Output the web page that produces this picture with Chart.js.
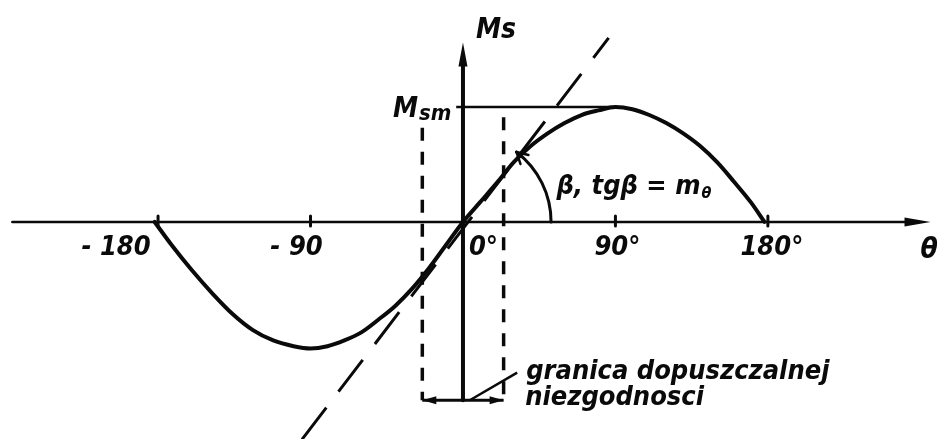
<!DOCTYPE html>
<html>
<head>
<meta charset="utf-8">
<title>Ms(θ)</title>
<script src="https://cdn.jsdelivr.net/npm/chart.js@4.4.1/dist/chart.umd.min.js"></script>
<style>
  html, body { margin: 0; padding: 0; background: #fff; }
  canvas { display: block; }
</style>
</head>
<body>
<canvas id="chart" width="940" height="439"></canvas>
<script>
// synchronising torque Ms against load angle θ (deg), scaled so that Msm = 1
const curveTheta = [-182, -172, -160, -148, -136, -124, -112, -100, -90, -80, -70, -60, -50, -40, -30, -20, -10, 0,
                    10, 20, 30, 40, 50, 60, 70, 80, 90, 100, 110, 120, 130, 140, 150, 160, 170, 178];
const curveMs    = [0, -0.20, -0.42, -0.62, -0.80, -0.94, -1.03, -1.08, -1.10, -1.08, -1.03, -0.96, -0.85, -0.73, -0.58, -0.40, -0.20, 0,
                    0.17, 0.34, 0.52, 0.66, 0.77, 0.86, 0.93, 0.97, 1.0, 0.98, 0.93, 0.86, 0.77, 0.66, 0.52, 0.35, 0.17, 0];

// tangent at the origin, tg β = mθ
const tangentTheta = [-95, 86];
const tangentMs    = [-1.89, 1.60];

// limits of the admissible mismatch
const limitTheta  = [-24, 24];
const limitTop    = [0.82, 0.91];
const limitBottom = -1.55;

// Msm level line
const msmTheta = [-4, 90];
const msmValue = 1;

// leader line to the note
const leaderTheta = [4, 32];
const leaderMs    = [-1.55, -1.31];

// axes
const axisTheta = [-266, 276];
const axisMs    = [-1.55, 1.56];
const tickTheta = [-180, -90, 90, 180];
const tickLabels = ['- 180', '- 90', '0°', '90°', '180°'];
const arcFootTheta = 52;

const ink = '#0a0a0a';
const hand = '"Liberation Sans Narrow", "DejaVu Sans Condensed", sans-serif';

function pts(xs, ys) {
  return xs.map((v, i) => ({ x: v, y: Array.isArray(ys) ? ys[i] : ys }));
}

function arrowHead(ctx, x, y, ang, len, half) {
  ctx.beginPath();
  ctx.moveTo(x, y);
  ctx.lineTo(x - len * Math.cos(ang) + half * Math.sin(ang), y - len * Math.sin(ang) - half * Math.cos(ang));
  ctx.lineTo(x - len * Math.cos(ang) - half * Math.sin(ang), y - len * Math.sin(ang) + half * Math.cos(ang));
  ctx.closePath();
  ctx.fill();
}

function stroke(ctx, x1, y1, x2, y2) {
  ctx.beginPath();
  ctx.moveTo(x1, y1);
  ctx.lineTo(x2, y2);
  ctx.stroke();
}

// M with a lowered, smaller index
function withIndex(ctx, main, sub, x, y, size, subSize, drop) {
  ctx.textAlign = 'left';
  ctx.font = 'italic bold ' + size + 'px ' + hand;
  ctx.fillText(main, x, y);
  const w = ctx.measureText(main).width;
  ctx.font = 'italic bold ' + subSize + 'px ' + hand;
  ctx.fillText(sub, x + w + 1, y + drop);
}

const sketch = {
  id: 'sketch',
  beforeDatasetsDraw(chart) {
    const { ctx, scales: { x, y } } = chart;
    const px = v => x.getPixelForValue(v);
    const py = v => y.getPixelForValue(v);
    ctx.save();
    ctx.strokeStyle = ink;
    ctx.fillStyle = ink;
    ctx.lineCap = 'round';

    // θ axis
    ctx.lineWidth = 2.6;
    stroke(ctx, px(axisTheta[0]), py(0), px(axisTheta[1]) - 12, py(0));
    arrowHead(ctx, px(axisTheta[1]), py(0), 0, 26, 4.5);

    // Ms axis
    ctx.lineWidth = 4;
    stroke(ctx, px(0), py(axisMs[0]), px(0), py(axisMs[1]) + 14);
    arrowHead(ctx, px(0), py(axisMs[1]), -Math.PI / 2, 24, 4.5);

    // tick marks
    ctx.lineWidth = 3;
    tickTheta.forEach(t => stroke(ctx, px(t), py(0) - 6, px(t), py(0) + 4));
    ctx.restore();
  },
  afterDatasetsDraw(chart) {
    const { ctx, scales: { x, y } } = chart;
    const px = v => x.getPixelForValue(v);
    const py = v => y.getPixelForValue(v);
    ctx.save();
    ctx.strokeStyle = ink;
    ctx.fillStyle = ink;
    ctx.lineCap = 'round';

    // arrows of the mismatch bracket
    arrowHead(ctx, px(limitTheta[0]), py(limitBottom), Math.PI, 14, 4);
    arrowHead(ctx, px(limitTheta[1]), py(limitBottom), 0, 14, 4);

    // angle β between tangent and θ axis
    const ox = px(0), oy = py(0);
    const tx = px(tangentTheta[1]) - px(tangentTheta[0]);
    const ty = py(tangentMs[1]) - py(tangentMs[0]);
    const beta = Math.atan2(-ty, tx);
    const r = px(arcFootTheta) - ox;
    ctx.lineWidth = 3;
    ctx.beginPath();
    ctx.arc(ox, oy, r, -beta, 0);
    ctx.stroke();
    const ax = ox + r * Math.cos(beta), ay = oy - r * Math.sin(beta);
    ctx.lineWidth = 2.5;
    stroke(ctx, ax, ay, ax + 4, ay + 12);
    stroke(ctx, ax, ay, ax + 12, ay + 3);

    ctx.textBaseline = 'alphabetic';

    // axis names
    ctx.textAlign = 'left';
    ctx.font = 'italic bold 28px ' + hand;
    ctx.fillText('Ms', ox + 13, 38);
    ctx.fillText('θ', px(axisTheta[1]) - 10, oy + 36);
    withIndex(ctx, 'M', 'sm', ox - 70, py(msmValue) + 10, 28, 22, 3);

    // tick labels
    ctx.font = 'italic bold 27px ' + hand;
    ctx.textAlign = 'center';
    ctx.fillText(tickLabels[0], px(-180) - 42, oy + 33);
    ctx.fillText(tickLabels[1], px(-90) - 14, oy + 33);
    ctx.textAlign = 'left';
    ctx.fillText(tickLabels[2], ox + 6, oy + 33);
    ctx.textAlign = 'center';
    ctx.fillText(tickLabels[3], px(90) + 2, oy + 33);
    ctx.fillText(tickLabels[4], px(180) + 4, oy + 33);

    // β, tgβ = mθ
    ctx.textAlign = 'left';
    ctx.font = 'italic bold 27px ' + hand;
    const s = 'β, tgβ = m';
    ctx.fillText(s, ax + 40, oy - 28);
    const sw = ctx.measureText(s).width;
    ctx.font = 'italic bold 16px ' + hand;
    ctx.fillText('θ', ax + 41 + sw, oy - 24);

    // note on the bracket
    ctx.font = 'italic bold 27px ' + hand;
    ctx.fillText('granica dopuszczalnej', px(leaderTheta[1]) + 9, py(leaderMs[1]) + 6);
    ctx.fillText('niezgodnosci', px(leaderTheta[1]) + 8, py(leaderMs[1]) + 32);
    ctx.restore();
  }
};

const lineSet = (data, width, dash) => ({
  data, showLine: true, pointRadius: 0, borderColor: ink,
  borderWidth: width, borderDash: dash || [], tension: 0, fill: false
});

new Chart(document.getElementById('chart'), {
  type: 'scatter',
  data: {
    datasets: [
      Object.assign(lineSet(pts(curveTheta, curveMs), 4), { cubicInterpolationMode: 'monotone', borderCapStyle: 'round', borderJoinStyle: 'round' }),
      lineSet(pts(tangentTheta, tangentMs), 3, [40, 20]),
      lineSet(pts([limitTheta[0], limitTheta[0]], [limitTop[0], limitBottom]), 3.5, [13, 11]),
      lineSet(pts([limitTheta[1], limitTheta[1]], [limitTop[1], limitBottom]), 3.5, [13, 11]),
      lineSet(pts(limitTheta, limitBottom), 3),
      lineSet(pts(msmTheta, msmValue), 2.5),
      lineSet(pts(leaderTheta, leaderMs), 2.5)
    ]
  },
  options: {
    responsive: false,
    animation: false,
    layout: { padding: 0 },
    plugins: { legend: { display: false }, tooltip: { enabled: false } },
    scales: {
      x: { type: 'linear', min: -273.3, max: 281.6, display: false },
      y: { type: 'linear', min: -1.887, max: 1.93, display: false }
    }
  },
  plugins: [sketch]
});
</script>
</body>
</html>
